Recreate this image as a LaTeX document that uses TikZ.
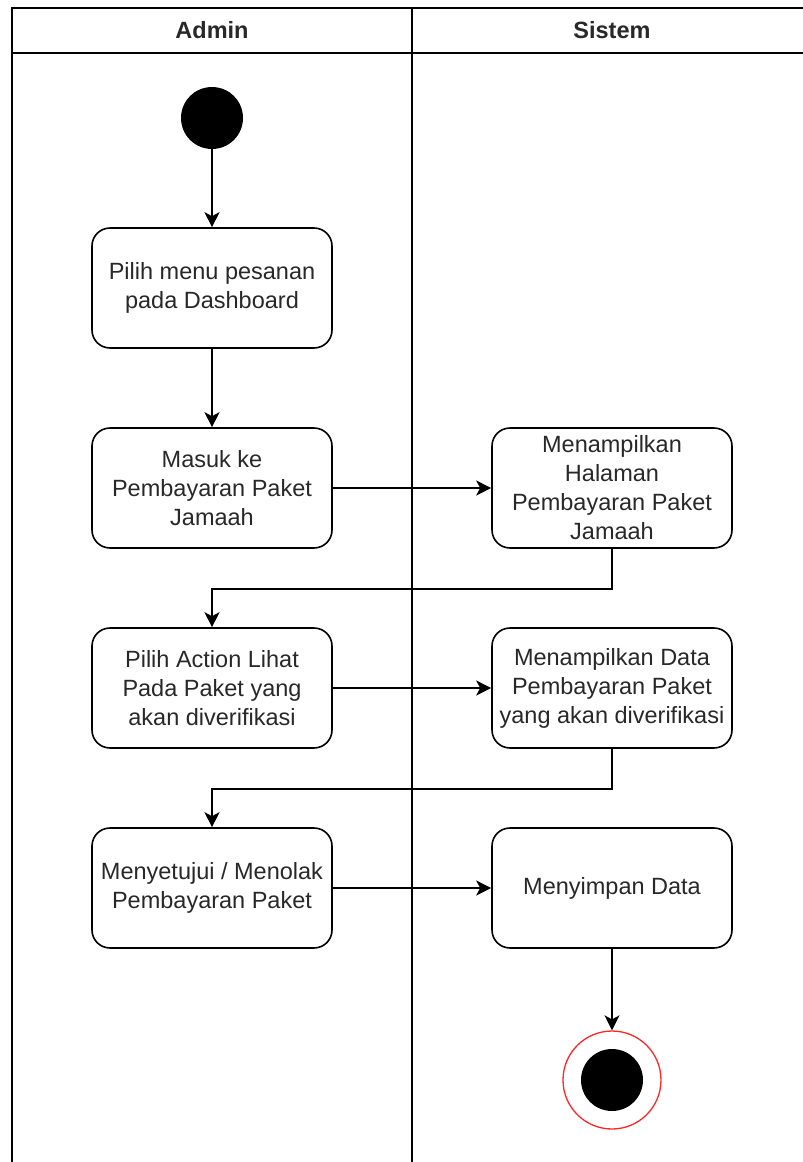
\documentclass[tikz,border=0pt]{standalone}
\usepackage{fontspec}
\setmainfont{Liberation Sans}
\usetikzlibrary{arrows.meta}
\definecolor{txt}{RGB}{40,40,40}
\definecolor{endred}{RGB}{255,40,40}
\begin{document}
\begin{tikzpicture}[x=1pt,y=-1pt,
  lane/.style={line width=1.6pt},
  act/.style={draw, line width=1.6pt, rounded corners=18pt, minimum width=240pt, minimum height=120pt,
    align=center, text=txt, font=\fontsize{23.5}{29}\selectfont, inner sep=0pt},
  flow/.style={line width=1.6pt, -{Stealth[length=15pt,width=15pt,inset=4pt]}},
  hdr/.style={font=\fontsize{23.5}{28}\selectfont\bfseries, text=txt}]
\useasboundingbox (0,0) rectangle (803,1162);
% swimlanes
\draw[lane] (12,1162) -- (12,8) -- (803,8);
\draw[lane] (12,53) -- (803,53);
\draw[lane] (412,8) -- (412,1162);
\node[hdr] (hA) at (212,30.5) {Admin};
\node[hdr] (hS) at (612,30.5) {Sistem};
% nodes
\node[circle, fill=black, minimum size=62pt, inner sep=0pt] (start) at (212,118) {};
\node[act] (a1) at (212,288) {Pilih menu pesanan\\pada Dashboard};
\node[act] (a2) at (212,488) {Masuk ke\\Pembayaran Paket\\Jamaah};
\node[act] (a3) at (212,688) {Pilih Action Lihat\\Pada Paket yang\\akan diverifikasi};
\node[act] (a4) at (212,888) {Menyetujui / Menolak\\Pembayaran Paket};
\node[act] (s1) at (612,488) {Menampilkan\\Halaman\\Pembayaran Paket\\Jamaah};
\node[act] (s2) at (612,688) {Menampilkan Data\\Pembayaran Paket\\yang akan diverifikasi};
\node[act] (s3) at (612,888) {Menyimpan Data};
\node[circle, draw=endred, line width=1.3pt, minimum size=98pt, inner sep=0pt] (endo) at (612,1080) {};
\node[circle, fill=black, minimum size=62pt, inner sep=0pt] (endi) at (612,1080) {};
% connectors
\draw[flow] (start) -- (a1);
\draw[flow] (a1) -- (a2);
\draw[flow] (a2) -- (s1);
\draw[flow] (s1.south) -- ++(0,40) -| (a3.north);
\draw[flow] (a3) -- (s2);
\draw[flow] (s2.south) -- ++(0,40) -| (a4.north);
\draw[flow] (a4) -- (s3);
\draw[flow] (s3) -- (endo);
\end{tikzpicture}
\end{document}
